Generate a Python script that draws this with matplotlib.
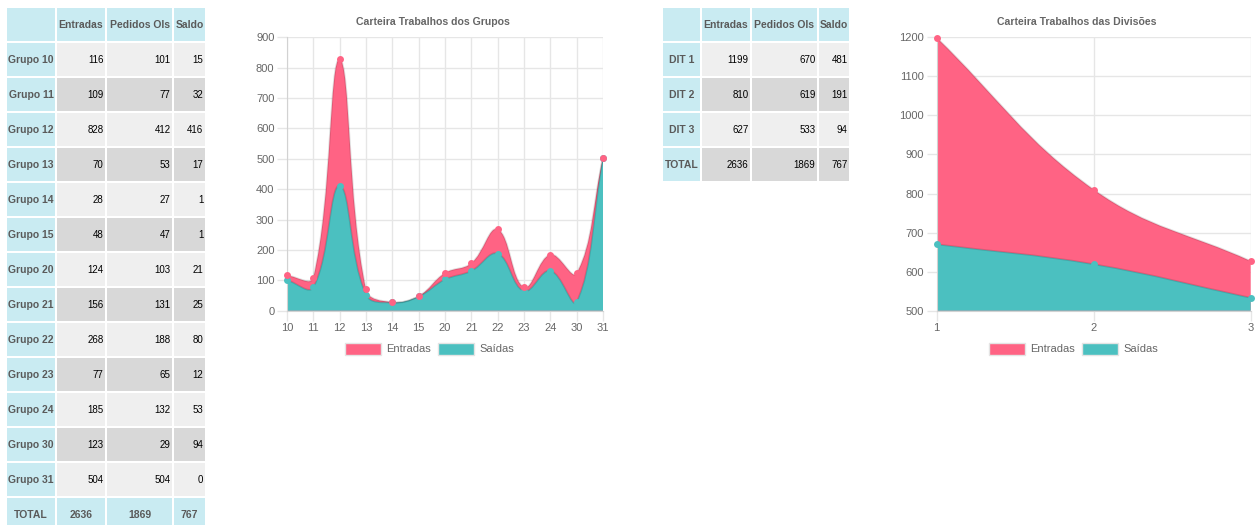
import matplotlib
matplotlib.use("Agg")
import matplotlib.pyplot as plt
import numpy as np
from matplotlib.path import Path
from matplotlib.patches import PathPatch, Rectangle

plt.rcParams['font.family'] = ['Liberation Sans', 'DejaVu Sans']

# --- data ---
grupos = ["Grupo 10", "Grupo 11", "Grupo 12", "Grupo 13", "Grupo 14", "Grupo 15", "Grupo 20",
          "Grupo 21", "Grupo 22", "Grupo 23", "Grupo 24", "Grupo 30", "Grupo 31"]
grupo_labels = ["10", "11", "12", "13", "14", "15", "20", "21", "22", "23", "24", "30", "31"]
grupo_entradas = [116, 109, 828, 70, 28, 48, 124, 156, 268, 77, 185, 123, 504]
grupo_pedidos = [101, 77, 412, 53, 27, 47, 103, 131, 188, 65, 132, 29, 504]
grupo_saldo = [15, 32, 416, 17, 1, 1, 21, 25, 80, 12, 53, 94, 0]
grupo_total = [2636, 1869, 767]

divisoes = ["DIT 1", "DIT 2", "DIT 3"]
div_labels = ["1", "2", "3"]
div_entradas = [1199, 810, 627]
div_pedidos = [670, 619, 533]
div_saldo = [481, 191, 94]
div_total = [2636, 1869, 767]

col_headers = ["Entradas", "Pedidos OIs", "Saldo"]

PINK = "#ff6384"
TEAL = "#4bc0c0"
BLUE = "#c9ebf2"
ROW1 = "#efefef"
ROW2 = "#d8d8d8"
GRID = "#e6e6e6"
TXT = "#666666"

W, H = 1256, 525
fig = plt.figure(figsize=(W / 100, H / 100), dpi=100)


def axes_px(l, t, r, b):
    return fig.add_axes([l / W, 1 - b / H, (r - l) / W, (b - t) / H])


def spline_verts(ax, xs, ys, tension=0.4):
    # Chart.js style bezier through the points, computed in pixel space
    pts = ax.transData.transform(np.column_stack([xs, ys]))
    bb = ax.bbox
    n = len(pts)
    cps = []
    for i in range(n):
        prev = pts[max(i - 1, 0)]
        cur = pts[i]
        nxt = pts[min(i + 1, n - 1)]
        d01 = np.hypot(*(cur - prev))
        d12 = np.hypot(*(nxt - cur))
        tot = d01 + d12
        s01 = d01 / tot if tot else 0
        s12 = d12 / tot if tot else 0
        c1 = cur - tension * s01 * (nxt - prev)
        c2 = cur + tension * s12 * (nxt - prev)
        for c in (c1, c2):
            c[0] = min(max(c[0], bb.x0), bb.x1)
            c[1] = min(max(c[1], bb.y0), bb.y1)
        cps.append((c1, c2))
    verts = [pts[0]]
    codes = [Path.MOVETO]
    for i in range(n - 1):
        verts += [cps[i][1], cps[i + 1][0], pts[i + 1]]
        codes += [Path.CURVE4] * 3
    verts = ax.transData.inverted().transform(np.array(verts))
    return verts, codes


def line_chart(ax, labels, s1, s2, ymin, ymax, step):
    x = np.arange(len(labels))
    ax.set_xlim(0, len(labels) - 1)
    ax.set_ylim(ymin, ymax)
    ax.set_xticks(x)
    ax.set_xticklabels(labels)
    ax.set_yticks(np.arange(ymin, ymax + 1, step))
    ax.grid(True, color=GRID, linewidth=1)
    ax.set_axisbelow(True)
    for s in ["top", "right"]:
        ax.spines[s].set_visible(False)
    for s in ["left", "bottom"]:
        ax.spines[s].set_color("#d2d2d2")
    ax.tick_params(colors=GRID, labelcolor=TXT, labelsize=8, length=7, width=1, pad=2)

    for vals, col in ((s1, PINK), (s2, TEAL)):
        v, c = spline_verts(ax, x, vals)
        fv = np.vstack([v, [[x[-1], ymin], [x[0], ymin], v[0]]])
        fc = c + [Path.LINETO, Path.LINETO, Path.CLOSEPOLY]
        ax.add_patch(PathPatch(Path(fv, fc), facecolor=col, edgecolor="none", zorder=2))
        ax.add_patch(PathPatch(Path(v, c), facecolor="none", edgecolor=(0, 0, 0, 0.12),
                               linewidth=1.3, zorder=3))
    ax.plot(x, s2, "o", color=TEAL, markersize=5, markeredgewidth=0, zorder=4, clip_on=False)
    ax.plot(x, s1, "o", color=PINK, markersize=5, markeredgewidth=0, zorder=5, clip_on=False)


ax1 = axes_px(287, 37.3, 603, 310.7)
line_chart(ax1, grupo_labels, grupo_entradas, grupo_pedidos, 0, 900, 100)
ax2 = axes_px(936.7, 37.3, 1250.7, 310.7)
line_chart(ax2, div_labels, div_entradas, div_pedidos, 500, 1200, 100)

# overlay in pixel coordinates for titles, tables and legends
ov = fig.add_axes([0, 0, 1, 1], zorder=10)
ov.set_xlim(0, W)
ov.set_ylim(H, 0)
ov.axis("off")
ov.patch.set_alpha(0)

ov.text(433, 22, "Carteira Trabalhos dos Grupos", fontsize=7.6, color=TXT,
        fontweight="bold", ha="center", va="center")
ov.text(1077, 22, "Carteira Trabalhos das Divisões", fontsize=7.6, color=TXT,
        fontweight="bold", ha="center", va="center")


def legend(x0):
    for i, (name, col) in enumerate((("Entradas", PINK), ("Saídas", TEAL))):
        bx = x0 + i * 93
        ov.add_patch(Rectangle((bx, 343), 36, 12, facecolor=col, edgecolor="#e4e4e4", lw=1))
        ov.text(bx + 41, 349.5, name, fontsize=8, color=TXT, va="center", ha="left")


legend(345)
legend(989)


def cell(x0, x1, y0, txt, bg, ha="right", color="black", weight="normal"):
    ov.add_patch(Rectangle((x0, y0), x1 - x0, 33, facecolor=bg, edgecolor="none"))
    if txt == "":
        return
    if ha == "right":
        tx = x1 - 1.5
    else:
        tx = (x0 + x1) / 2
    ov.text(tx, y0 + 17, txt, fontsize=7.5 if weight == "bold" else 7, color=color,
            ha=ha, va="center", fontweight=weight)


def table(cols, names, e, p, s, total, total_style):
    rows = [[""] + col_headers]
    for i in range(len(names)):
        rows.append([names[i], str(e[i]), str(p[i]), str(s[i])])
    rows.append(["TOTAL"] + [str(t) for t in total])
    for r, row in enumerate(rows):
        y0 = 8 if r == 0 else 43 + 35 * (r - 1)
        for c, txt in enumerate(row):
            x0, x1 = cols[c]
            if r == 0 or c == 0:
                cell(x0, x1, y0, txt, BLUE, "center", "#5a5a5a", "bold")
            elif r == len(rows) - 1 and total_style == "blue":
                cell(x0, x1, y0, txt, BLUE, "center", "#5a5a5a", "bold")
            else:
                cell(x0, x1, y0, txt, ROW1 if r % 2 == 1 else ROW2)


table([(7, 55), (57, 105), (107, 172), (174, 205)], grupos, grupo_entradas, grupo_pedidos,
      grupo_saldo, grupo_total, "blue")
table([(663, 700), (702, 750), (752, 817), (819, 849)], divisoes, div_entradas, div_pedidos,
      div_saldo, div_total, "gray")

fig.savefig("out.png", dpi=100)
